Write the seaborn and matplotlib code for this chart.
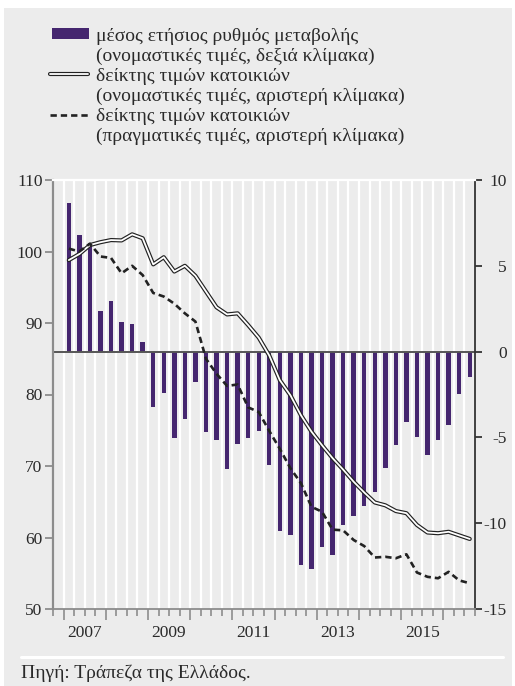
import numpy as np
import pandas as pd
import matplotlib
matplotlib.use("Agg")
import matplotlib.pyplot as plt
import seaborn as sns
from matplotlib.lines import Line2D
from matplotlib.patches import Rectangle
from matplotlib.ticker import FixedLocator, NullFormatter

# ---------------- data ----------------
quarters = [f"{y}Q{q}" for y in range(2007, 2017) for q in range(1, 5)][:39]

growth = [8.64, 6.78, 6.3, 2.39,
          2.92, 1.75, 1.58, 0.58,
          -3.25, -2.43, -5.06, -3.95,
          -1.75, -4.67, -5.18, -6.87,
          -5.37, -5.06, -4.64, -6.58,
          -10.44, -10.71, -12.46, -12.66,
          -11.37, -11.84, -10.09, -9.56,
          -8.98, -8.18, -6.81, -5.47,
          -4.09, -4.96, -6.0, -5.18,
          -4.25, -2.49, -1.46]

nominal = [98.8, 99.65, 100.9, 101.3,
           101.6, 101.55, 102.4, 101.85,
           98.2, 99.2, 97.2, 98.0,
           96.6, 94.4, 92.2, 91.2,
           91.35, 89.7, 87.95, 85.45,
           82.0, 79.9, 77.1, 74.8,
           72.9, 71.1, 69.5, 67.8,
           66.3, 64.9, 64.5, 63.7,
           63.4, 61.75, 60.7, 60.6,
           60.8, 60.3, 59.8]

real = [100.4, 100.0, 101.1, 99.3,
        99.1, 96.95, 98.0, 96.7,
        94.2, 93.7, 92.7, 91.35,
        90.2, 85.0, 82.9, 81.2,
        81.4, 78.2, 77.55, 74.9,
        72.4, 69.7, 67.6, 64.3,
        63.6, 61.1, 61.0, 59.65,
        58.8, 57.2, 57.3, 57.1,
        57.65, 55.1, 54.5, 54.3,
        55.2, 54.0, 53.6]

year_labels = [2007, 2009, 2011, 2013, 2015]
left_ticks = [50, 60, 70, 80, 90, 100, 110]
right_ticks = [-15, -10, -5, 0, 5, 10]

legend_labels = [
    "μέσος ετήσιος ρυθμός μεταβολής",
    "(ονομαστικές τιμές, δεξιά κλίμακα)",
    "δείκτης τιμών κατοικιών",
    "(ονομαστικές τιμές, αριστερή κλίμακα)",
    "δείκτης τιμών κατοικιών",
    "(πραγματικές τιμές, αριστερή κλίμακα)",
]
source_text = "Πηγή: Τράπεζα της Ελλάδος."

# ---------------- styling ----------------
sns.set_style("ticks")
plt.rcParams["font.family"] = ["Liberation Serif", "DejaVu Serif"]
plt.rcParams["axes.unicode_minus"] = False

PURPLE = "#45266f"
BG = "#ececec"
TXT = "#2a2a2a"
GREY = "#8c8c8c"

W, H = 515, 686
fig = plt.figure(figsize=(W / 100, H / 100), dpi=100, facecolor="white")
fig.patches.append(Rectangle((4 / W, 0), 508 / W, 678 / H, transform=fig.transFigure,
                             facecolor=BG, edgecolor="none", zorder=-10))

ax = fig.add_axes([53 / W, 1 - 609 / H, (475 - 53) / W, (609 - 180) / H])
ax.set_facecolor(BG)

# position of each quarter (index 0 = 2006Q4, left empty)
def qpos(label):
    y, q = int(label[:4]), int(label[-1])
    return (y - 2007) * 4 + q

df = pd.DataFrame({"quarter": quarters, "growth": growth,
                   "nominal": nominal, "real": real})
df["pos"] = df["quarter"].map(qpos)

# bars (right scale) on primary axis, drawn underneath
sns.barplot(data=df, x="pos", y="growth", native_scale=True, width=0.42,
            color=PURPLE, saturation=1, linewidth=0, errorbar=None, ax=ax)
ax.set_xlim(-0.5, 39.5)
ax.set_ylim(-15, 10)
ax.axhline(0, color="#555555", lw=1.4, zorder=2.5)

# lines (left scale) on twin axis, on top
ax2 = ax.twinx()
ax.yaxis.tick_right()
ax2.yaxis.tick_left()
sns.lineplot(data=df, x="pos", y="nominal", color="#222222", lw=3.0, ax=ax2)
sns.lineplot(data=df, x="pos", y="nominal", color="white", lw=1.3, ax=ax2)
sns.lineplot(data=df, x="pos", y="real", color="#222222", lw=1.9, ax=ax2)
ax2.lines[-1].set_linestyle((0, (2.4, 1.5)))
ax2.set_ylim(50, 110)
ax2.set_xlim(-0.5, 39.5)

for a in (ax, ax2):
    a.set_xlabel("")
    a.set_ylabel("")

# x ticks / grid
bounds = np.arange(-0.5, 40, 1.0)
year_bounds = bounds[1::4]
ax.xaxis.set_major_locator(FixedLocator(year_bounds))
ax.xaxis.set_minor_locator(FixedLocator(bounds))
ax.xaxis.set_major_formatter(NullFormatter())
ax.tick_params(axis="x", which="major", length=8, width=1.2, color=GREY)
ax.tick_params(axis="x", which="minor", length=5, width=1.2, color=GREY)
ax.grid(True, axis="x", which="both", color="white", lw=1.6)
ax.grid(False, axis="y")
ax.set_axisbelow(True)
for yr in year_labels:
    ax.text((yr - 2007) * 4 + 2.5, -0.066, str(yr), transform=ax.get_xaxis_transform(),
            ha="center", va="baseline", fontsize=12.5, color=TXT)

# y ticks
ax2.set_yticks(left_ticks)
ax2.set_yticklabels([str(t) for t in left_ticks])
ax2.tick_params(axis="y", length=6, width=1.3, color=GREY, pad=1.5,
                labelsize=12.5, labelcolor=TXT)
ax.set_yticks(right_ticks)
ax.set_yticklabels([str(t) for t in right_ticks])
ax.tick_params(axis="y", length=5, width=1.3, color="#333333", pad=18,
               labelsize=12.5, labelcolor=TXT)
plt.setp(ax.get_yticklabels(), ha="right")

# spines
for a in (ax, ax2):
    for s in a.spines.values():
        s.set_visible(False)
ax2.spines["left"].set_visible(True)
ax2.spines["left"].set_color(GREY)
ax2.spines["left"].set_linewidth(1.6)
ax2.spines["right"].set_visible(True)
ax2.spines["right"].set_color("#333333")
ax2.spines["right"].set_linewidth(1.3)
ax2.spines["bottom"].set_visible(True)
ax2.spines["bottom"].set_color(GREY)
ax2.spines["bottom"].set_linewidth(1.3)
ax2.spines["top"].set_visible(True)
ax2.spines["top"].set_color("white")
ax2.spines["top"].set_linewidth(1.6)

# legend (manual, figure coordinates)
fig.patches.append(Rectangle((52 / W, 1 - 39 / H), 37 / W, 11 / H, transform=fig.transFigure,
                             facecolor=PURPLE, edgecolor="none"))
fig.lines.append(Line2D([50 / W, 88 / W], [1 - 74 / H] * 2, transform=fig.transFigure,
                        color="#222222", lw=3.0))
fig.lines.append(Line2D([50 / W, 88 / W], [1 - 74 / H] * 2, transform=fig.transFigure,
                        color="white", lw=1.3))
fig.lines.append(Line2D([50 / W, 88 / W], [1 - 115 / H] * 2, transform=fig.transFigure,
                        color="#222222", lw=1.9, linestyle=(0, (2.4, 1.5))))
for i, lab in enumerate(legend_labels):
    fig.text(96 / W, 1 - (41 + 20 * i) / H, lab, ha="left", va="baseline",
             fontsize=14, color=TXT)

# footer
fig.lines.append(Line2D([21 / W, 503 / W], [1 - 657 / H] * 2, transform=fig.transFigure,
                        color="white", lw=2.2))
fig.text(21 / W, 1 - 678 / H, source_text, ha="left", va="baseline",
         fontsize=14, color=TXT)

fig.savefig("out.png", dpi=100, facecolor=fig.get_facecolor())
